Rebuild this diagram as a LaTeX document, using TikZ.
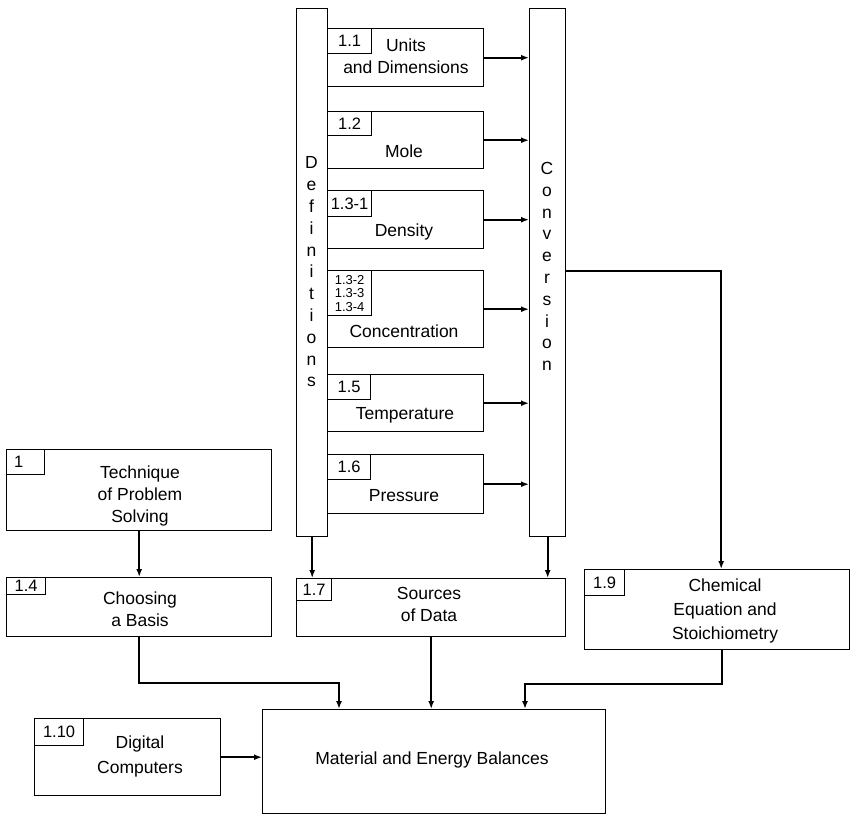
\documentclass[tikz,border=0pt]{standalone}
\usepackage{fontspec}
\setmainfont{Liberation Sans}
\usetikzlibrary{arrows.meta,calc}
\begin{document}
\begin{tikzpicture}[x=1pt,y=-1pt,
  box/.style={draw, line width=1.4pt, inner sep=0pt, anchor=north west},
  numbox/.style={draw, line width=1.2pt, inner sep=0pt, anchor=north west, font=\fontsize{16.5}{18}\selectfont},
  lbl/.style={align=center, font=\fontsize{17.5}{22}\selectfont, inner sep=0pt},
  vlbl/.style={align=center, font=\fontsize{17.5}{21.8}\selectfont, inner sep=0pt},
  arr/.style={line width=2.2pt, -{Latex[length=8pt,width=6pt]}},
  con/.style={line width=2.2pt}
]
\useasboundingbox (0,0) rectangle (851,815);

% vertical bars
\node[box, minimum width=31pt, minimum height=528pt] (defs) at (296,8) {};
\node[box, minimum width=36pt, minimum height=528pt] (conv) at (529,8) {};
\node[vlbl] (defst) at (311.5,272) {D\\e\\f\\i\\n\\i\\t\\i\\o\\n\\s};
\node[vlbl] (convt) at (547,266.5) {C\\o\\n\\v\\e\\r\\s\\i\\o\\n};

% ladder boxes
\node[box, minimum width=156pt, minimum height=58pt] (b11) at (327,28) {};
\node[box, minimum width=156pt, minimum height=57pt] (b12) at (327,111) {};
\node[box, minimum width=156pt, minimum height=58pt] (b131) at (327,190) {};
\node[box, minimum width=156pt, minimum height=77pt] (bconc) at (327,270) {};
\node[box, minimum width=156pt, minimum height=57pt] (b15) at (327,374) {};
\node[box, minimum width=156pt, minimum height=59pt] (b16) at (327,454) {};

\node[numbox, minimum width=44pt, minimum height=25pt] (n11) at (327,28) {1.1};
\node[numbox, minimum width=44pt, minimum height=24pt] (n12) at (327,111) {1.2};
\node[numbox, minimum width=44pt, minimum height=26pt] (n131) at (327,190) {1.3-1};
\node[numbox, minimum width=44pt, minimum height=45pt, align=left, font=\fontsize{13}{13.5}\selectfont] (nconc) at (327,270) {1.3-2\\1.3-3\\1.3-4};
\node[numbox, minimum width=43pt, minimum height=25pt] (n15) at (327,374) {1.5};
\node[numbox, minimum width=43pt, minimum height=25pt] (n16) at (327,454) {1.6};

\node[lbl] (t11) at (406,56) {Units\\and Dimensions};
\node[lbl] (t12) at (404,151) {Mole};
\node[lbl] (t131) at (404,232) {Density};
\node[lbl] (tconc) at (404,331) {Concentration};
\node[lbl] (t15) at (405,415) {Temperature};
\node[lbl] (t16) at (404,496) {Pressure};

% lower boxes
\node[box, minimum width=265pt, minimum height=81pt] (tech) at (6,449) {};
\node[box, minimum width=265pt, minimum height=59pt] (b14) at (6,577) {};
\node[box, minimum width=269pt, minimum height=58pt] (b17) at (296,578) {};
\node[box, minimum width=265pt, minimum height=80pt] (b19) at (584,569) {};
\node[box, minimum width=186pt, minimum height=77pt] (dig) at (34,718) {};
\node[box, minimum width=343pt, minimum height=104pt] (mat) at (262,709) {};

\node[numbox, minimum width=38pt, minimum height=25pt] (n1) at (6,449) {1\hspace*{14pt}};
\node[numbox, minimum width=39pt, minimum height=17pt] (n14) at (6,577) {1.4};
\node[numbox, minimum width=35pt, minimum height=22pt] (n17) at (296,578) {1.7};
\node[numbox, minimum width=40pt, minimum height=26pt] (n19) at (584,569) {1.9};
\node[numbox, minimum width=49pt, minimum height=27pt] (n110) at (34,718) {1.10};

\node[lbl] (ttech) at (140,496) {Technique\\of Problem\\Solving};
\node[lbl] (t14) at (140,609) {Choosing\\a Basis};
\node[lbl] (t17) at (429,604) {Sources\\of Data};
\node[lbl, font=\fontsize{17.5}{24}\selectfont] (t19) at (725,611) {Chemical\\Equation and\\Stoichiometry};
\node[lbl, font=\fontsize{17.5}{25}\selectfont] (tdig) at (140,756) {Digital\\Computers};
\node[lbl] (tmat) at (432,760) {Material and Energy Balances};

% connectors: ladder to Conversion
\foreach \b in {b11,b12,b131,bconc,b15,b16}
  \draw[arr] (\b.east) -- (\b.east -| conv.west);

% bars down to Sources of Data
\draw[arr] (defs.south) -- (defs.south |- b17.north);
\draw[arr] (conv.south) -- (conv.south |- b17.north);

% Conversion to 1.9
\coordinate (c19) at ([xshift=4pt]b19.north);
\draw[arr] ([yshift=2pt]conv.east) -| (c19);

% Technique to Choosing
\draw[arr] (tech.south) -- (b14.north);

% routes into Material and Energy Balances
\coordinate (j1) at (339,683);
\coordinate (j3) at (525,684);
\draw[arr] (b14.south) |- (j1) -- (j1 |- mat.north);
\draw[arr] (b17.south) -- (b17.south |- mat.north);
\draw[arr] ([xshift=5pt]b19.south) |- (j3) -- (j3 |- mat.north);
\draw[arr] (dig.east) -- (dig.east -| mat.west);
\end{tikzpicture}
\end{document}
